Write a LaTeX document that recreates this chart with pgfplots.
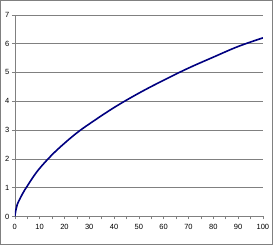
\documentclass[border=0pt]{standalone}
\usepackage{pgfplots}
\pgfplotsset{compat=1.18}
\usepackage{fontspec}
\setmainfont{Liberation Sans}
\definecolor{navy}{HTML}{000080}
\definecolor{gridgray}{HTML}{808080}
\begin{document}
\begin{tikzpicture}
\draw[gridgray, line width=0.8pt] (0.6pt,0.6pt) rectangle (272.4pt,244.4pt);
\begin{axis}[
  at={(15pt,28.7pt)}, anchor=south west,
  scale only axis, width=247.7pt, height=201.3pt,
  xmin=0, xmax=100, ymin=0, ymax=7,
  axis x line=bottom, axis y line=left,
  axis line style={gridgray, line width=0.6pt, -},
  xtick={0,10,...,100}, minor xtick={5,15,...,95},
  ytick={0,1,...,7},
  tick style={gridgray, line width=0.6pt},
  tick align=outside,
  major tick length=3pt, minor tick length=3pt,
  ymajorgrids, grid style={gridgray, line width=0.6pt},
  tick label style={font=\fontsize{7.5}{9}\selectfont, black},
  /pgf/number format/assume math mode=true,
  xticklabel style={yshift=-1pt},
  yticklabel style={xshift=1pt},
]
\addplot[navy, line width=1.6pt, smooth, tension=0.6] coordinates {
(0,0) (0.5,0.25) (1,0.42) (2,0.6) (3,0.77) (4,0.92) (5,1.05) (7,1.32) (10,1.67)
(15,2.14) (20,2.54) (25,2.90) (30,3.21) (40,3.78) (50,4.28) (60,4.73)
(70,5.15) (80,5.53) (90,5.90) (100,6.20)
};
\end{axis}
\end{tikzpicture}
\end{document}
